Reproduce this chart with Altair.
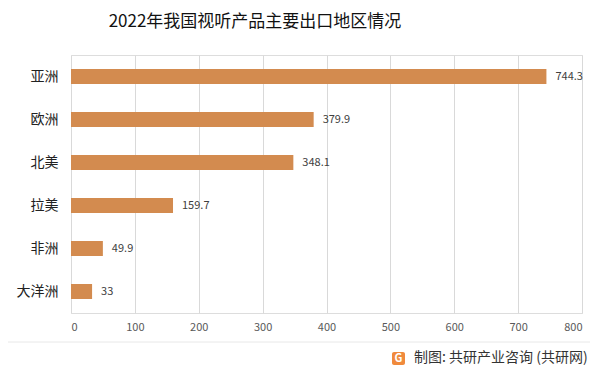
import altair as alt
import pandas as pd

regions = ["亚洲", "欧洲", "北美", "拉美", "非洲", "大洋洲"]
values = [744.3, 379.9, 348.1, 159.7, 49.9, 33]
labels = ["744.3", "379.9", "348.1", "159.7", "49.9", "33"]
x_ticks = [0, 100, 200, 300, 400, 500, 600, 700, 800]

df = pd.DataFrame({"region": regions, "value": values, "label": labels})

FONT = "Noto Sans CJK SC"
W, H = 511, 258

xscale = alt.Scale(domain=[0, 800], nice=False)
yenc = alt.Y("region:N", sort=regions, title=None,
             scale=alt.Scale(paddingInner=0.64, paddingOuter=0.32),
             axis=alt.Axis(labelFont=FONT, labelFontSize=14, labelColor="#222222",
                           labelPadding=13, ticks=False, domain=False, grid=False))

bars = alt.Chart(df).mark_bar(color="#D38B4F", size=15).encode(
    x=alt.X("value:Q", scale=xscale, title=None,
            axis=alt.Axis(values=x_ticks, grid=True, gridColor="#D9D9D9", domain=False,
                          ticks=False, labelFont=FONT, labelFontSize=11,
                          labelColor="#595959", labelPadding=8)),
    y=yenc,
)

texts = alt.Chart(df).mark_text(align="left", dx=9, font=FONT, fontSize=11,
                                color="#404040").encode(
    x=alt.X("value:Q", scale=xscale),
    y=alt.Y("region:N", sort=regions),
    text="label:N",
)

title = alt.Chart(pd.DataFrame({"t": ["2022年我国视听产品主要出口地区情况"]})).mark_text(
    font=FONT, fontSize=17, color="#111111", align="center", baseline="middle"
).encode(x=alt.value(184), y=alt.value(-33), text="t:N")

line = alt.Chart(pd.DataFrame({"a": [1]})).mark_rule(color="#E8E8E8", strokeWidth=1).encode(
    x=alt.value(-63), x2=alt.value(519), y=alt.value(287)
)

logo = alt.Chart(pd.DataFrame({"a": [1]})).mark_rect(color="#F08A3C", cornerRadius=2).encode(
    x=alt.value(321), x2=alt.value(334), y=alt.value(297), y2=alt.value(310)
)
logo_g = alt.Chart(pd.DataFrame({"t": ["G"]})).mark_text(
    font=FONT, fontSize=11, fontWeight="bold", color="white", align="center", baseline="middle"
).encode(x=alt.value(327.5), y=alt.value(303.5), text="t:N")

footer = alt.Chart(pd.DataFrame({"t": ["制图: 共研产业咨询 (共研网)"]})).mark_text(
    font=FONT, fontSize=14, color="#333333", align="left", baseline="middle"
).encode(x=alt.value(343), y=alt.value(303), text="t:N")

chart = alt.layer(bars, texts, title, line, logo, logo_g, footer).properties(
    width=W, height=H,
    autosize=alt.AutoSizeParams(type="none"),
    padding={"left": 63, "top": 47, "right": 9, "bottom": 53},
).configure_view(stroke=None).configure(background="white")

chart.save("out.html", embed_options={"renderer": "svg", "actions": False})
